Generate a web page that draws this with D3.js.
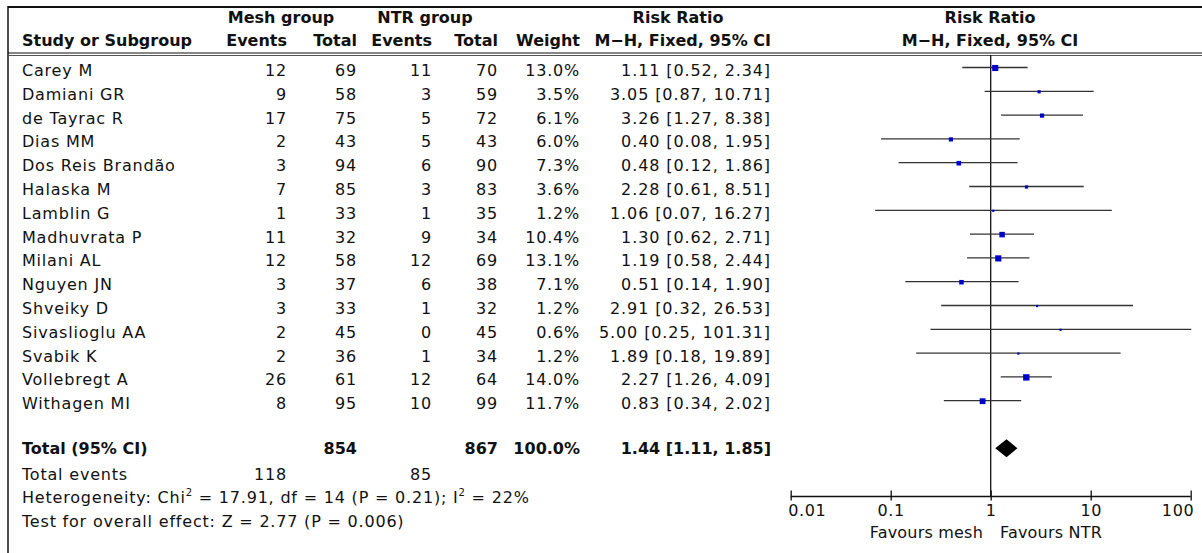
<!DOCTYPE html>
<html><head><meta charset="utf-8">
<script src="https://cdn.jsdelivr.net/npm/d3@7"></script>
<style>
html,body{margin:0;padding:0;background:#fff;}
text{font-family:"DejaVu Sans",sans-serif;fill:#111;}
</style></head>
<body><svg id="c" width="1202" height="553"></svg>
<script>
const studies = ["Carey M","Damiani GR","de Tayrac R","Dias MM","Dos Reis Brandão","Halaska M","Lamblin G","Madhuvrata P","Milani AL","Nguyen JN","Shveiky D","Sivaslioglu AA","Svabik K","Vollebregt A","Withagen MI"];
const meshEvents = [12,9,17,2,3,7,1,11,12,3,3,2,2,26,8];
const meshTotal  = [69,58,75,43,94,85,33,32,58,37,33,45,36,61,95];
const ntrEvents  = [11,3,5,5,6,3,1,9,12,6,1,0,1,12,10];
const ntrTotal   = [70,59,72,43,90,83,35,34,69,38,32,45,34,64,99];
const weights    = [13.0,3.5,6.1,6.0,7.3,3.6,1.2,10.4,13.1,7.1,1.2,0.6,1.2,14.0,11.7];
const rr         = [1.11,3.05,3.26,0.40,0.48,2.28,1.06,1.30,1.19,0.51,2.91,5.00,1.89,2.27,0.83];
const ciLow      = [0.52,0.87,1.27,0.08,0.12,0.61,0.07,0.62,0.58,0.14,0.32,0.25,0.18,1.26,0.34];
const ciHigh     = [2.34,10.71,8.38,1.95,1.86,8.51,16.27,2.71,2.44,1.90,26.53,101.31,19.89,4.09,2.02];
const total = {meshTotal:854, ntrTotal:867, weight:100.0, rr:1.44, lo:1.11, hi:1.85, meshEvents:118, ntrEvents:85};
const axisTicks = [0.01,0.1,1,10,100];
const axisTickLabels = ["0.01","0.1","1","10","100"];

const svg = d3.select("#c");
svg.append("rect").attr("width",1202).attr("height",553).attr("fill","#fff");

const x = d3.scaleLog().domain([0.01,100]).range([790.7,1190.7]);
const yBase = d3.scaleLinear().domain([0,studies.length-1]).range([76,409.2]);
const fmt2 = d3.format(".2f"), fmt1 = d3.format(".1f");
const reg = {size:16, ls:0.8};

function txt(xp, yp, s, anchor, bold, ls){
  return svg.append("text").attr("x",xp).attr("y",yp).attr("text-anchor",anchor||"start")
    .attr("font-size",16).attr("font-weight",bold?"bold":"normal")
    .attr("letter-spacing", bold?0:(ls==null?reg.ls:ls)).text(s);
}

// frame lines
svg.append("line").attr("x1",8).attr("x2",1202).attr("y1",7).attr("y2",7).attr("stroke","#111").attr("stroke-width",2);
svg.append("line").attr("x1",8).attr("x2",8).attr("y1",6).attr("y2",553).attr("stroke","#111").attr("stroke-width",1.5);
svg.append("line").attr("x1",8).attr("x2",1202).attr("y1",53).attr("y2",53).attr("stroke","#111").attr("stroke-width",1.2);
svg.append("line").attr("x1",8).attr("x2",1202).attr("y1",55.5).attr("y2",55.5).attr("stroke","#555").attr("stroke-width",1);

// headers
txt(281,23,"Mesh group","middle",true);
txt(425,23,"NTR group","middle",true);
txt(678,23,"Risk Ratio","middle",true);
txt(990,23,"Risk Ratio","middle",true);
txt(22,46,"Study or Subgroup","start",true);
txt(287,46,"Events","end",true);
txt(357,46,"Total","end",true);
txt(432,46,"Events","end",true);
txt(498,46,"Total","end",true);
txt(580,46,"Weight","end",true);
txt(771,46,"M\u2212H, Fixed, 95% CI","end",true);
txt(990,46,"M\u2212H, Fixed, 95% CI","middle",true);

// rows
studies.forEach((s,i)=>{
  const yb = yBase(i);
  txt(22,yb,s,"start");
  txt(287,yb,meshEvents[i],"end");
  txt(357,yb,meshTotal[i],"end");
  txt(432,yb,ntrEvents[i],"end");
  txt(498,yb,ntrTotal[i],"end");
  txt(580,yb,fmt1(weights[i])+"%","end");
  txt(771,yb,`${fmt2(rr[i])} [${fmt2(ciLow[i])}, ${fmt2(ciHigh[i])}]`,"end",false,0.9);
});

// forest: line at 1
svg.append("line").attr("x1",x(1)).attr("x2",x(1)).attr("y1",55).attr("y2",497).attr("stroke","#111").attr("stroke-width",1.3);

const g = svg.append("g");
studies.forEach((s,i)=>{
  const yc = yBase(i)-8.5;
  g.append("line").attr("x1",x(ciLow[i])).attr("x2",Math.min(x(ciHigh[i]),1192)).attr("y1",yc).attr("y2",yc)
    .attr("stroke","#333").attr("stroke-width",1.3);
  const side = Math.max(2.2, 1.7*Math.sqrt(weights[i]));
  g.append("rect").attr("x",x(rr[i])-side/2).attr("y",yc-side/2+0.5).attr("width",side).attr("height",side).attr("fill","#0000CC");
});

// total row
const ty = 454;
txt(22,ty,"Total (95% CI)","start",true);
txt(357,ty,total.meshTotal,"end",true);
txt(498,ty,total.ntrTotal,"end",true);
txt(580,ty,fmt1(total.weight)+"%","end",true);
txt(771,ty,`${fmt2(total.rr)} [${fmt2(total.lo)}, ${fmt2(total.hi)}]`,"end",true);
const dy = 448.3;
svg.append("path").attr("d",`M${x(total.lo)},${dy} L${x(total.rr)},${dy-9} L${x(total.hi)},${dy} L${x(total.rr)},${dy+9} Z`).attr("fill","#000");

txt(22,479.5,"Total events","start");
txt(287,479.5,total.meshEvents,"end");
txt(432,479.5,total.ntrEvents,"end");

const het = svg.append("text").attr("x",22).attr("y",503).attr("font-size",16).attr("letter-spacing",reg.ls);
het.append("tspan").text("Heterogeneity: Chi");
het.append("tspan").attr("font-size",10).attr("dy",-7).text("2");
het.append("tspan").attr("dy",7).text(" = 17.91, df = 14 (P = 0.21); I");
het.append("tspan").attr("font-size",10).attr("dy",-7).text("2");
het.append("tspan").attr("dy",7).text(" = 22%");
txt(22,526.5,"Test for overall effect: Z = 2.77 (P = 0.006)","start");

// axis
const axisY = 496.5;
const ax = svg.append("g").attr("transform",`translate(0,${axisY})`)
  .call(d3.axisBottom(x).tickValues(axisTicks).tickFormat((d,i)=>axisTickLabels[i]).tickSize(4).tickPadding(4));
ax.select(".domain").attr("d",`M${x(0.01)},0H${x(100)}`).attr("stroke","#111").attr("stroke-width",1.3);
ax.selectAll(".tick line").attr("y1",-6).attr("y2",4).attr("stroke","#111").attr("stroke-width",1.3);
ax.selectAll(".tick text").attr("font-size",16).attr("font-family","DejaVu Sans").attr("fill","#111")
  .attr("letter-spacing",0.6).attr("dy","0.71em")
  .attr("text-anchor",(d,i)=> i===0?"start":(i===axisTicks.length-1?"end":"middle"))
  .attr("dx",(d,i)=> i===0?-3:(i===axisTicks.length-1?3:0));
txt(983,538,"Favours mesh","end",false,0.2);
txt(1000,538,"Favours NTR","start",false,0.2);
</script></body></html>
